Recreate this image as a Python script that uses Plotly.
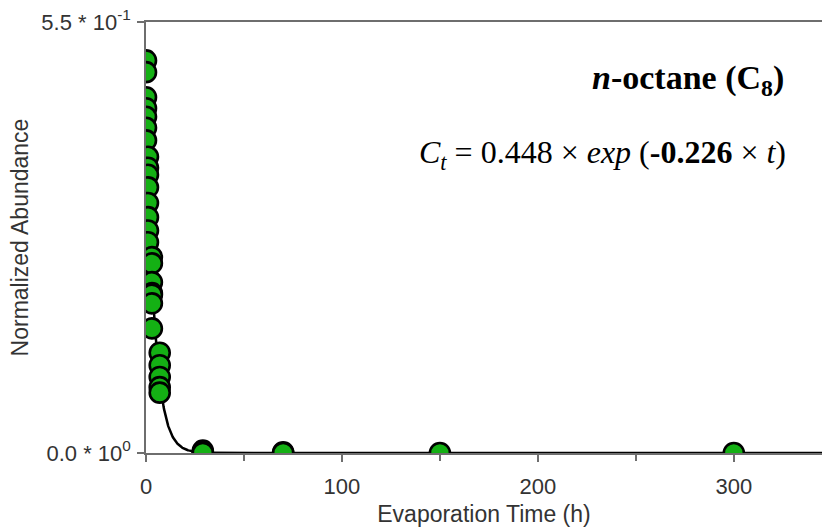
import numpy as np
import plotly.graph_objects as go

# observed data (evaporation time in h, normalized abundance)
time_h = [0, 0, 0, 0, 0, 0, 0,
          1, 1, 1, 1, 1, 1, 1, 1,
          3, 3, 3, 3, 3, 3,
          3,
          7, 7, 7, 7, 7,
          29, 29, 29, 70, 70, 150, 300]
abundance = [0.501, 0.486, 0.454, 0.440, 0.429, 0.415, 0.399,
             0.378, 0.364, 0.355, 0.339, 0.319, 0.301, 0.284, 0.269,
             0.250, 0.242, 0.218, 0.204, 0.202, 0.191,
             0.159,
             0.128, 0.112, 0.097, 0.084, 0.077,
             0.003, 0.001, 0.0, 0.001, 0.0, 0.0, 0.0]

fit_a = 0.448
fit_k = 0.226
x_max = 345

y_tickvals = [0, 0.55]
y_ticktext = ["0.0 * 10<sup>0</sup>", "5.5 * 10<sup>-1</sup>"]
x_tickvals = [0, 100, 200, 300]
x_ticktext = ["0", "100", "200", "300"]

t_fit = np.linspace(0, x_max, 1500)
c_fit = fit_a * np.exp(-fit_k * t_fit)

fig = go.Figure()
fig.add_trace(go.Scatter(x=t_fit, y=c_fit, mode="lines",
                         line=dict(color="black", width=2.5),
                         hoverinfo="skip", showlegend=False))
fig.add_trace(go.Scatter(x=time_h, y=abundance, mode="markers",
                         marker=dict(size=20, color="#14B014",
                                     line=dict(color="black", width=2.6)),
                         showlegend=False))

tick_font = dict(family="Liberation Sans, Arial, sans-serif", size=22, color="#333333")
title_font = dict(family="Liberation Sans, Arial, sans-serif", size=23, color="#333333")

fig.update_layout(
    width=822, height=527,
    margin=dict(l=146, r=0, t=22, b=74),
    paper_bgcolor="white", plot_bgcolor="white",
    xaxis=dict(range=[0, x_max], showgrid=False, zeroline=False,
               showline=True, linecolor="#6e6e6e", linewidth=1.5, mirror=True,
               tickvals=x_tickvals, ticktext=x_ticktext,
               ticks="outside", ticklen=7, tickwidth=1.5, tickcolor="#6e6e6e",
               minor=dict(dtick=50, tick0=0, ticks="outside", ticklen=6,
                          tickwidth=1.5, tickcolor="#6e6e6e"),
               tickfont=tick_font, ticklabelstandoff=6,
               title=dict(text="Evaporation Time (h)", font=title_font, standoff=10)),
    yaxis=dict(range=[0, 0.55], showgrid=False, zeroline=False,
               showline=True, linecolor="#6e6e6e", linewidth=1.5, mirror=False,
               tickvals=y_tickvals, ticktext=y_ticktext,
               ticks="outside", ticklen=7, tickwidth=1.5, tickcolor="#6e6e6e",
               tickfont=tick_font, ticklabelstandoff=2,
               title=dict(text="Normalized Abundance", font=title_font, standoff=6)),
    font=tick_font,
)

serif = "Liberation Serif, Times New Roman, serif"
fig.add_annotation(xref="paper", yref="paper", x=0.947, y=0.865,
                   xanchor="right", yanchor="middle", showarrow=False,
                   text="<b><i>n</i>-octane (C<sub>8</sub>)</b>",
                   font=dict(family=serif, size=34, color="black"))
fig.add_annotation(xref="paper", yref="paper", x=0.949, y=0.693,
                   xanchor="right", yanchor="middle", showarrow=False,
                   text="<i>C<sub>t</sub></i> = 0.448 × <i>exp</i> (<b>-0.226</b> × <i>t</i>)",
                   font=dict(family=serif, size=32, color="black"))

fig.write_html("out.html")
